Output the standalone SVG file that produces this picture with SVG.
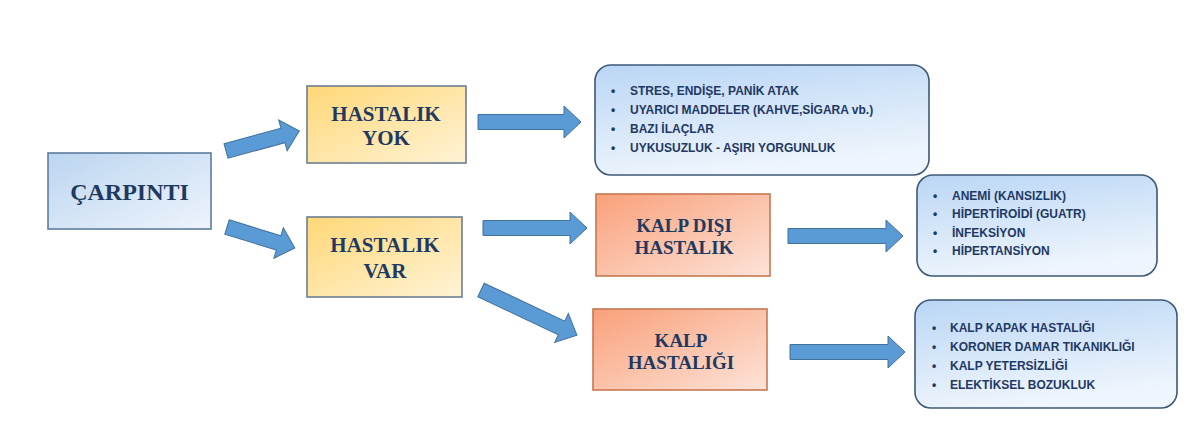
<svg xmlns="http://www.w3.org/2000/svg" width="1200" height="447" viewBox="0 0 1200 447">
<defs>
<linearGradient id="gBlue" x1="0" y1="0" x2="1" y2="1"><stop offset="0" stop-color="#BCD5F0"/><stop offset="1" stop-color="#EDF4FC"/></linearGradient>
<linearGradient id="gYel" x1="0" y1="0" x2="1" y2="1"><stop offset="0" stop-color="#FFD777"/><stop offset="1" stop-color="#FFF3D6"/></linearGradient>
<linearGradient id="gOr" x1="0" y1="0" x2="1" y2="1"><stop offset="0" stop-color="#F9A07A"/><stop offset="1" stop-color="#FDE3D8"/></linearGradient>
<linearGradient id="gList" x1="0" y1="0" x2="0.3" y2="1"><stop offset="0" stop-color="#BAD6F5"/><stop offset="1" stop-color="#EEF5FC"/></linearGradient>
</defs>
<style>
.bx{stroke-width:1.6}
.blue{fill:url(#gBlue);stroke:#5E7C9C}
.yel{fill:url(#gYel);stroke:#6C7E90}
.or{fill:url(#gOr);stroke:#C77850}
.lst{fill:url(#gList);stroke:#3E5877;stroke-width:1.6}
.t{font-family:"Liberation Serif","Times New Roman",serif;font-weight:bold;fill:#1F3A60;text-anchor:middle}
.l{font-family:"Liberation Sans",Arial,sans-serif;font-weight:bold;font-size:12px;fill:#1F3864}
.ar{fill:#5B9BD5;stroke:#41719C;stroke-width:1}
</style>
<rect width="1200" height="447" fill="#FFFFFF"/>
<g id="connectors">
<polygon class="ar" transform="translate(226,151) rotate(-15.3)" points="0,-7.5 59,-7.5 59,-16 76,0 59,16 59,7.5 0,7.5"/>
<polygon class="ar" transform="translate(227,227) rotate(17.2)" points="0,-7.5 54,-7.5 54,-16 71,0 54,16 54,7.5 0,7.5"/>
<polygon class="ar" transform="translate(481,290) rotate(25.2)" points="0,-7.5 89,-7.5 89,-16 106,0 89,16 89,7.5 0,7.5"/>
<polygon class="ar" points="478,114.5 564,114.5 564,106 581,122 564,138 564,129.5 478,129.5"/>
<polygon class="ar" points="483,220.5 570,220.5 570,212 587,228 570,244 570,235.5 483,235.5"/>
<polygon class="ar" points="788,228.5 886,228.5 886,220 903,236 886,252 886,243.5 788,243.5"/>
<polygon class="ar" points="790,344.5 888,344.5 888,336 905,352 888,368 888,359.5 790,359.5"/>
</g>
<g id="carpinti">
<rect class="bx blue" x="48" y="153" width="163" height="76"/>
<text class="t" x="129.5" y="200" font-size="24">ÇARPINTI</text>
</g>
<g id="hastalik-yok">
<rect class="bx yel" x="307" y="86" width="159" height="77"/>
<text class="t" x="386" y="121" font-size="21">HASTALIK</text>
<text class="t" x="386" y="145" font-size="21">YOK</text>
</g>
<g id="hastalik-var">
<rect class="bx yel" x="307" y="217" width="155" height="80"/>
<text class="t" x="385" y="252" font-size="21">HASTALIK</text>
<text class="t" x="385" y="278" font-size="21">VAR</text>
</g>
<g id="kalp-disi">
<rect class="bx or" x="596" y="194" width="174" height="82"/>
<text class="t" x="684" y="232" font-size="19">KALP DIŞI</text>
<text class="t" x="684" y="254" font-size="19">HASTALIK</text>
</g>
<g id="kalp-hastaligi">
<rect class="bx or" x="593" y="309" width="174" height="81"/>
<text class="t" x="681" y="347" font-size="19">KALP</text>
<text class="t" x="681" y="369" font-size="19">HASTALIĞI</text>
</g>
<g id="list-yok">
<rect class="lst" x="595" y="65" width="334" height="110" rx="16"/>
<text class="l" y="94.5"><tspan x="611">•</tspan><tspan x="630">STRES, ENDİŞE, PANİK ATAK</tspan></text>
<text class="l" y="113.5"><tspan x="611">•</tspan><tspan x="630">UYARICI MADDELER (KAHVE,SİGARA vb.)</tspan></text>
<text class="l" y="132.5"><tspan x="611">•</tspan><tspan x="630">BAZI İLAÇLAR</tspan></text>
<text class="l" y="151.5"><tspan x="611">•</tspan><tspan x="630">UYKUSUZLUK - AŞIRI YORGUNLUK</tspan></text>
</g>
<g id="list-kalp-disi">
<rect class="lst" x="917" y="175" width="240" height="101" rx="16"/>
<text class="l" y="200"><tspan x="933">•</tspan><tspan x="952">ANEMİ (KANSIZLIK)</tspan></text>
<text class="l" y="218"><tspan x="933">•</tspan><tspan x="952">HİPERTİROİDİ (GUATR)</tspan></text>
<text class="l" y="237"><tspan x="933">•</tspan><tspan x="952">İNFEKSİYON</tspan></text>
<text class="l" y="255"><tspan x="933">•</tspan><tspan x="952">HİPERTANSİYON</tspan></text>
</g>
<g id="list-kalp">
<rect class="lst" x="915" y="300" width="262" height="108" rx="16"/>
<text class="l" y="331.5"><tspan x="932">•</tspan><tspan x="950">KALP KAPAK HASTALIĞI</tspan></text>
<text class="l" y="350.5"><tspan x="932">•</tspan><tspan x="950">KORONER DAMAR TIKANIKLIĞI</tspan></text>
<text class="l" y="369.5"><tspan x="932">•</tspan><tspan x="950">KALP YETERSİZLİĞİ</tspan></text>
<text class="l" y="388.5"><tspan x="932">•</tspan><tspan x="950">ELEKTİKSEL BOZUKLUK</tspan></text>
</g>
</svg>
